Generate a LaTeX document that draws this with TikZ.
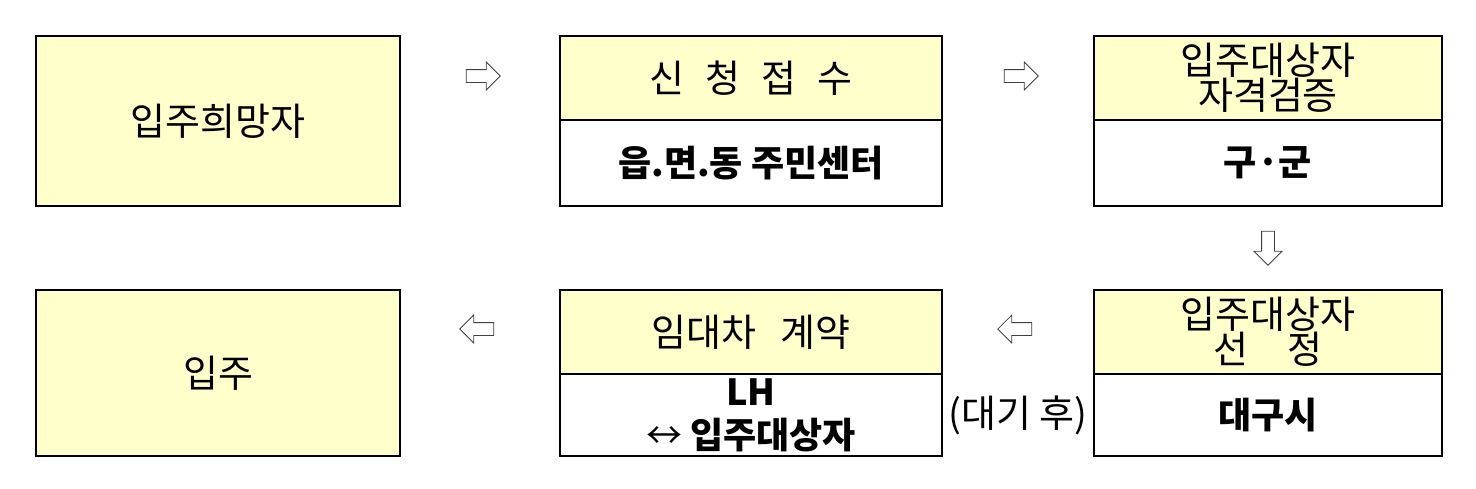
\documentclass[tikz,border=0pt]{standalone}
\usepackage{fontspec}
\setmainfont{Noto Sans CJK KR}
\usepackage{xcolor}
\usetikzlibrary{calc, shapes.arrows, positioning}
\definecolor{paleyellow}{HTML}{FFFFCC}

\begin{document}
\begin{tikzpicture}[x=1pt, y=-1pt,
    box/.style={draw=black, line width=1.5pt, fill=paleyellow, align=center, inner sep=0pt, outer sep=0pt,
        font=\fontsize{38}{32}\selectfont},
    body/.style={box, fill=white, font=\fontsize{36}{43}\selectfont\bfseries},
    blockarrow/.style={single arrow, draw=black!75, fill=white, line width=0.8pt, inner xsep=0pt, inner ysep=6pt,
        minimum height=34pt, single arrow head extend=7.5pt}]
    \useasboundingbox (0,0) rectangle (1476,488);

    % 윗줄: 입주희망자 -> 신청접수 -> 자격검증
    \node[box, minimum width=364pt, minimum height=170pt] (hope) at (218,121) {입주희망자};
    \node[box, minimum width=382pt, minimum height=84pt] (apply) at (751,78)
        {신\hspace{.55em}청\hspace{.55em}접\hspace{.55em}수};
    \node[body, minimum width=382pt, minimum height=86pt, below=0pt of apply] (office) {읍.면.동 주민센터};
    \node[box, minimum width=348pt, minimum height=84pt] (verify) at (1268,78) {입주대상자\\자격검증};
    \node[body, minimum width=348pt, minimum height=86pt, below=0pt of verify] (district) {구·군};

    % 아랫줄: 선정 -> 임대차 계약 -> 입주
    \node[box, minimum width=348pt, minimum height=84pt] (select) at (1268,332) {입주대상자\\선\hspace{1.05em}정};
    \node[body, minimum width=348pt, minimum height=82pt, below=0pt of select] (city) {대구시};
    \node[box, minimum width=382pt, minimum height=84pt] (lease) at (751,332) {임대차\hspace{.65em}계약};
    \node[body, minimum width=382pt, minimum height=82pt, below=0pt of lease] (contract)
        {LH\\{\mdseries ↔} 입주대상자};
    \node[box, minimum width=364pt, minimum height=166pt] (movein) at (218,373) {입주};

    % 블록 화살표
    \node[blockarrow, yshift=2pt] (a1) at ($(hope.east |- apply.west)!0.5!(apply.west)$) {};
    \node[blockarrow, yshift=2pt] (a2) at ($(apply.east)!0.5!(verify.west)$) {};
    \node[blockarrow, shape border rotate=270, inner xsep=6pt, inner ysep=0pt, yshift=3pt] (a3)
        at ($(district.south)!0.5!(select.north)$) {};
    \node[blockarrow, shape border rotate=180, yshift=3pt] (a4) at ($(select.west)!0.5!(lease.east)$) {};
    \node[blockarrow, shape border rotate=180, yshift=3pt] (a5) at ($(lease.west)!0.5!(movein.east |- lease.west)$) {};

    \node[font=\fontsize{38}{38}\selectfont, inner sep=0pt] (wait) at ($(contract.east)!0.5!(city.west)$) {(대기 후)};
\end{tikzpicture}
\end{document}
